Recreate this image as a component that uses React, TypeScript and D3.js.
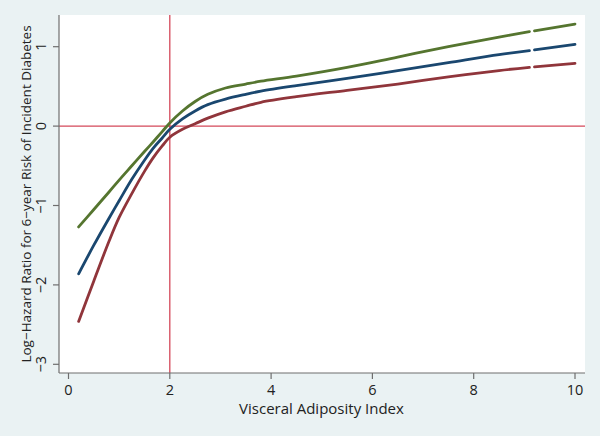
import React from "react";
import * as d3 from "d3";

const xValues = [0.2, 0.5, 0.8, 1.0, 1.25, 1.5, 1.67, 1.85, 2.0, 2.25, 2.5, 2.75, 3.1, 3.5, 3.8, 4.5, 5.5, 6.5, 7.5, 8.5, 9.1, 9.2, 10];
const greenValues = [-1.27, -1.05, -0.83, -0.68, -0.5, -0.32, -0.2, -0.07, 0.04, 0.19, 0.31, 0.4, 0.48, 0.53, 0.565, 0.63, 0.74, 0.87, 1.0, 1.12, 1.19, 1.2, 1.285];
const blueValues = [-1.86, -1.5, -1.16, -0.94, -0.67, -0.43, -0.28, -0.15, -0.04, 0.09, 0.19, 0.27, 0.34, 0.4, 0.44, 0.51, 0.6, 0.7, 0.8, 0.9, 0.95, 0.96, 1.03];
const redValues = [-2.46, -1.95, -1.45, -1.15, -0.85, -0.57, -0.4, -0.25, -0.14, -0.04, 0.03, 0.1, 0.18, 0.25, 0.3, 0.37, 0.45, 0.53, 0.62, 0.7, 0.74, 0.745, 0.79];
const xTicks = [0, 2, 4, 6, 8, 10];
const yTicks = [-3, -2, -1, 0, 1];
const refX = 2;
const refY = 0;
const gapStart = 9.1;
const gapEnd = 9.2;
const xTitle = "Visceral Adiposity Index";
const yTitle = "Log\u2212Hazard Ratio for 6\u2212year Risk of Incident Diabetes";

const seriesList = [
  { name: "upper", values: greenValues, color: "#55752f" },
  { name: "estimate", values: blueValues, color: "#1a476f" },
  { name: "lower", values: redValues, color: "#90353b" },
];

export default function App() {
  const W = 600, H = 436;
  const left = 59, right = 585, top = 15, bottom = 373;
  const x = d3.scaleLinear().domain([0, 10]).range([68.5, 575]);
  const y = d3.scaleLinear().domain([-3, 1]).range([364.3, 46.7]);
  const line = d3
    .line<[number, number]>()
    .x((d) => x(d[0]))
    .y((d) => y(d[1]))
    .curve(d3.curveCatmullRom.alpha(0.5));
  const font = "'Open Sans', 'DejaVu Sans', sans-serif";
  const axisColor = "#6e6e6e";
  return (
    <svg width={W} height={H} style={{ position: "absolute", left: 0, top: 0 }}>
      <rect x={0} y={0} width={W} height={H} fill="#eaf2f3" />
      <rect x={left} y={top} width={right - left} height={bottom - top} fill="#ffffff" />
      <line x1={left} x2={right} y1={y(refY)} y2={y(refY)} stroke="#d4485a" strokeWidth={1.3} />
      <line x1={x(refX)} x2={x(refX)} y1={top} y2={bottom} stroke="#d4485a" strokeWidth={1.3} />
      {seriesList.map((s) => {
        const pts: [number, number][] = xValues.map((xv, i) => [xv, s.values[i]]);
        const a = pts.filter((p) => p[0] <= gapStart);
        const b = pts.filter((p) => p[0] >= gapEnd);
        return (
          <g key={s.name}>
            <path d={line(a) || ""} fill="none" stroke={s.color} strokeWidth={2.8} strokeLinecap="round" />
            <path d={line(b) || ""} fill="none" stroke={s.color} strokeWidth={2.8} strokeLinecap="round" />
          </g>
        );
      })}
      <line x1={left} x2={left} y1={top} y2={bottom} stroke={axisColor} strokeWidth={1.2} />
      <line x1={left} x2={right} y1={bottom} y2={bottom} stroke={axisColor} strokeWidth={1.2} />
      {yTicks.map((t) => (
        <g key={"y" + t}>
          <line x1={left - 6} x2={left} y1={y(t)} y2={y(t)} stroke={axisColor} strokeWidth={1.2} />
          <text
            transform={`translate(46,${y(t)}) rotate(-90)`}
            textAnchor="middle"
            fontFamily={font}
            fontSize={14.5}
            fill="#222"
          >
            {t < 0 ? "\u2212" + Math.abs(t) : String(t)}
          </text>
        </g>
      ))}
      {xTicks.map((t) => (
        <g key={"x" + t}>
          <line x1={x(t)} x2={x(t)} y1={bottom} y2={bottom + 6} stroke={axisColor} strokeWidth={1.2} />
          <text x={x(t)} y={395} textAnchor="middle" fontFamily={font} fontSize={14.5} fill="#222">
            {t}
          </text>
        </g>
      ))}
      <text x={321.5} y={414} textAnchor="middle" fontFamily={font} fontSize={15} fill="#222">
        {xTitle}
      </text>
      <text
        transform={`translate(31,194) rotate(-90)`}
        textAnchor="middle"
        fontFamily={font}
        fontSize={13.5}
        fill="#222"
      >
        {yTitle}
      </text>
    </svg>
  );
}
